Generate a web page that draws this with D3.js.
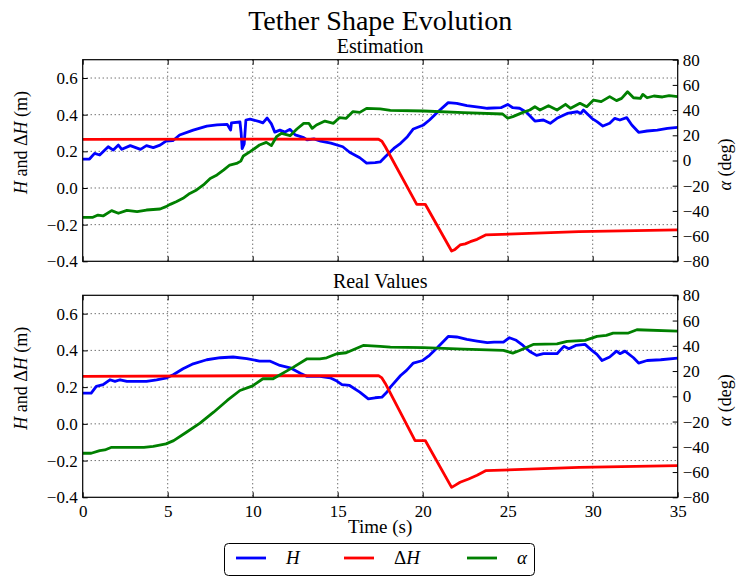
<!DOCTYPE html>
<html>
<head>
<meta charset="utf-8">
<script src="https://cdn.jsdelivr.net/npm/d3@7/dist/d3.min.js"></script>
<style>
  html, body { margin: 0; padding: 0; background: #fff; }
  svg { display: block; }
  text { font-family: "Liberation Serif", "DejaVu Serif", serif; fill: #000; }
</style>
</head>
<body>
<svg id="chart" width="737" height="577"></svg>
<script>
// ---- data: [time (s), value] ----
const estH = [[0,0.158],[0.4,0.158],[0.7,0.189],[1.0,0.180],[1.5,0.225],[1.8,0.207],[2.1,0.234],[2.3,0.211],[2.8,0.231],[3.4,0.211],[3.75,0.231],[4.15,0.220],[4.55,0.234],[4.9,0.256],[5.3,0.258],[5.7,0.289],[6.5,0.316],[7.3,0.338],[7.9,0.344],[8.5,0.347],[8.7,0.316],[8.75,0.355],[9.25,0.360],[9.32,0.300],[9.38,0.215],[9.5,0.240],[9.6,0.371],[9.85,0.376],[10.4,0.362],[10.6,0.355],[10.85,0.382],[11.1,0.350],[11.3,0.305],[11.6,0.316],[11.9,0.305],[12.2,0.320],[12.5,0.290],[13.0,0.275],[13.2,0.262],[13.6,0.268],[14.0,0.256],[14.6,0.245],[15.3,0.225],[15.7,0.195],[16.3,0.165],[16.7,0.136],[17.2,0.138],[17.5,0.142],[17.8,0.170],[18.3,0.216],[18.7,0.244],[19.1,0.280],[19.45,0.322],[20.05,0.344],[20.4,0.371],[20.9,0.416],[21.5,0.466],[22.0,0.462],[22.6,0.449],[23.4,0.440],[23.8,0.435],[24.6,0.438],[25.0,0.456],[25.3,0.438],[25.7,0.435],[26.1,0.413],[26.6,0.365],[27.1,0.371],[27.5,0.353],[27.9,0.380],[28.5,0.407],[29.1,0.416],[29.3,0.407],[29.45,0.425],[29.95,0.380],[30.25,0.362],[30.6,0.338],[31.0,0.353],[31.3,0.380],[31.6,0.371],[32.0,0.384],[32.3,0.344],[32.7,0.304],[33.2,0.311],[33.8,0.316],[34.4,0.325],[35,0.331]];
const estDH = [[0,0.265],[10,0.267],[17.4,0.266],[17.6,0.255],[17.8,0.225],[19.65,-0.089],[20.15,-0.089],[21.7,-0.344],[21.9,-0.335],[22.2,-0.311],[22.5,-0.305],[22.8,-0.293],[23.2,-0.280],[23.7,-0.256],[29.2,-0.238],[35,-0.229]];
const estAlpha = [[0,-45.1],[0.6,-45.1],[0.9,-43.3],[1.2,-44.0],[1.7,-39.8],[2.1,-41.9],[2.6,-39.6],[3.2,-40.6],[3.75,-39.3],[4.55,-38.5],[4.9,-36.6],[5.15,-34.8],[5.5,-32.7],[5.9,-30.0],[6.3,-26.1],[6.7,-23.4],[7.1,-19.4],[7.5,-14.2],[7.9,-11.5],[8.3,-7.5],[8.65,-3.6],[9.05,-2.3],[9.3,-0.5],[9.45,3.6],[9.85,7.0],[10.4,12.3],[10.8,14.4],[11.1,11.8],[11.4,18.9],[11.7,21.6],[12.2,19.7],[12.6,25.0],[13.0,29.5],[13.3,29.5],[13.5,25.5],[13.75,28.2],[14.25,31.3],[14.75,29.5],[15.1,34.0],[15.5,33.5],[15.9,38.8],[16.3,38.2],[16.7,41.4],[17.5,40.9],[18.1,39.8],[20.05,39.3],[22.4,38.0],[24.7,36.9],[25.0,33.5],[25.3,34.8],[25.9,38.2],[26.3,40.1],[26.6,42.7],[26.9,40.1],[27.4,43.5],[27.9,40.1],[28.4,44.6],[28.7,41.4],[29.25,45.4],[29.65,42.7],[30.05,48.0],[30.5,46.7],[31.0,50.7],[31.4,47.5],[31.7,49.3],[32.05,54.6],[32.4,49.8],[32.8,49.3],[32.95,52.5],[33.2,49.8],[33.6,51.2],[34.1,50.4],[34.5,51.5],[35,50.7]];

const realH = [[0,0.167],[0.5,0.167],[0.8,0.204],[1.2,0.213],[1.6,0.240],[1.9,0.231],[2.2,0.240],[2.6,0.231],[3.75,0.231],[4.35,0.240],[4.95,0.251],[5.35,0.269],[5.9,0.300],[6.5,0.327],[7.3,0.349],[8.1,0.360],[8.85,0.364],[9.65,0.355],[10.4,0.342],[11.0,0.342],[11.6,0.318],[12.2,0.305],[12.8,0.276],[13.2,0.258],[13.95,0.258],[14.55,0.251],[14.95,0.233],[15.25,0.214],[15.7,0.209],[16.3,0.173],[16.8,0.136],[17.2,0.142],[17.6,0.145],[17.9,0.173],[18.1,0.200],[18.7,0.263],[19.05,0.291],[19.45,0.331],[20.0,0.345],[20.4,0.373],[20.9,0.418],[21.5,0.476],[22.0,0.473],[22.6,0.460],[23.2,0.451],[23.8,0.442],[24.2,0.445],[24.75,0.445],[25.1,0.469],[25.5,0.455],[25.9,0.427],[26.3,0.394],[26.7,0.373],[27.1,0.382],[27.9,0.382],[28.3,0.422],[28.6,0.409],[29.0,0.427],[29.55,0.433],[29.95,0.400],[30.25,0.378],[30.55,0.345],[31.0,0.364],[31.4,0.396],[31.6,0.382],[31.9,0.396],[32.4,0.360],[32.7,0.331],[33.2,0.345],[34.0,0.349],[35,0.358]];
const realDH = [[0,0.258],[10,0.262],[17.4,0.263],[17.6,0.250],[17.8,0.220],[19.55,-0.091],[20.15,-0.091],[21.7,-0.346],[21.9,-0.335],[22.2,-0.318],[22.7,-0.300],[23.2,-0.280],[23.7,-0.255],[29.2,-0.237],[35,-0.228]];
const realAlpha = [[0,-45.1],[0.5,-45.1],[1.0,-43.0],[1.3,-42.5],[1.7,-40.4],[3.6,-40.4],[4.15,-39.6],[4.9,-37.7],[5.35,-35.1],[6.1,-28.5],[6.9,-21.3],[7.7,-12.6],[8.5,-3.3],[9.25,4.6],[10.0,8.3],[10.6,13.9],[11.2,13.9],[12.4,23.1],[13.2,29.7],[13.95,29.7],[14.35,30.5],[14.95,33.7],[15.5,34.5],[16.5,40.3],[17.5,39.5],[18.1,39.0],[20.05,38.5],[22.4,37.4],[24.75,36.3],[25.3,34.2],[25.7,36.3],[26.5,41.1],[27.9,41.6],[28.5,43.5],[29.55,44.3],[30.25,47.5],[30.8,48.3],[31.2,50.1],[32.1,50.1],[32.6,52.7],[35,51.7]];

const timeTicks = [0, 5, 10, 15, 20, 25, 30, 35];
const heightTicks = [-0.4, -0.2, 0.0, 0.2, 0.4, 0.6];
const angleTicks = [-80, -60, -40, -20, 0, 20, 40, 60, 80];
const panelTitles = ["Estimation", "Real Values"];
const seriesNames = ["H", "ΔH", "α"];
const seriesColors = ["#0000ff", "#ff0000", "#008000"];

// ---- layout ----
const svg = d3.select("#chart");
const X0 = 82.7, X1 = 677.7;
const panels = [
  { top: 59.7, bottom: 261.3, title: panelTitles[0], h: estH, dh: estDH, a: estAlpha, xLabels: false },
  { top: 295.3, bottom: 497.3, title: panelTitles[1], h: realH, dh: realDH, a: realAlpha, xLabels: true }
];

const x = d3.scaleLinear().domain([0, 35]).range([X0, X1]);
const fmtH = d3.format(".1f");
const TICK = 5;
const LW = 2.8;

svg.append("text")
  .attr("x", (X0 + X1) / 2).attr("y", 30)
  .attr("text-anchor", "middle")
  .style("font-size", "28px")
  .text("Tether Shape Evolution");

panels.forEach((p, i) => {
  const yL = d3.scaleLinear().domain([-0.4, 0.7]).range([p.bottom, p.top]);
  const yR = d3.scaleLinear().domain([-80, 80]).range([p.bottom, p.top]);
  const g = svg.append("g");

  // dotted grid
  const grid = g.append("g").attr("stroke", "#000").attr("stroke-width", 1)
    .attr("stroke-dasharray", "1,3").attr("opacity", 0.8);
  timeTicks.filter(t => t > 0 && t < 35).forEach(t => {
    grid.append("line").attr("x1", x(t)).attr("x2", x(t)).attr("y1", p.top).attr("y2", p.bottom);
  });
  heightTicks.filter(v => v > -0.4).forEach(v => {
    grid.append("line").attr("x1", X0).attr("x2", X1).attr("y1", yL(v)).attr("y2", yL(v));
  });

  // series
  const clipId = "clip" + i;
  svg.append("clipPath").attr("id", clipId).append("rect")
    .attr("x", X0).attr("y", p.top).attr("width", X1 - X0).attr("height", p.bottom - p.top);
  const lineL = d3.line().x(d => x(d[0])).y(d => yL(d[1]));
  const lineR = d3.line().x(d => x(d[0])).y(d => yR(d[1]));
  const lines = g.append("g").attr("clip-path", `url(#${clipId})`)
    .attr("fill", "none").attr("stroke-width", LW)
    .attr("stroke-linejoin", "round").attr("stroke-linecap", "round");
  lines.append("path").datum(p.h).attr("stroke", seriesColors[0]).attr("d", lineL);
  lines.append("path").datum(p.dh).attr("stroke", seriesColors[1]).attr("d", lineL);
  lines.append("path").datum(p.a).attr("stroke", seriesColors[2]).attr("d", lineR);

  // axes: ticks point inward
  const axB = d3.axisBottom(x).tickValues(timeTicks).tickSizeInner(-TICK).tickSizeOuter(0)
    .tickPadding(8).tickFormat(p.xLabels ? d3.format("d") : () => "");
  const axT = d3.axisTop(x).tickValues(timeTicks).tickSizeInner(-TICK).tickSizeOuter(0).tickFormat(() => "");
  const axL = d3.axisLeft(yL).tickValues(heightTicks).tickSizeInner(-TICK).tickSizeOuter(0)
    .tickPadding(5).tickFormat(fmtH);
  const axR = d3.axisRight(yR).tickValues(angleTicks).tickSizeInner(-TICK).tickSizeOuter(0)
    .tickPadding(5).tickFormat(d3.format("d"));

  [[axB, `translate(0,${p.bottom})`], [axT, `translate(0,${p.top})`],
   [axL, `translate(${X0},0)`], [axR, `translate(${X1},0)`]].forEach(([ax, tr]) => {
    const a = g.append("g").attr("transform", tr).call(ax);
    a.select(".domain").remove();
    a.selectAll(".tick line").attr("stroke", "#000").attr("stroke-width", 1);
    a.selectAll(".tick text").attr("fill", "#000")
      .style("font-family", '"Liberation Serif", serif').style("font-size", "17px");
  });

  // frame
  g.append("rect").attr("x", X0).attr("y", p.top).attr("width", X1 - X0).attr("height", p.bottom - p.top)
    .attr("fill", "none").attr("stroke", "#000").attr("stroke-width", 1.2);

  // subplot title
  svg.append("text").attr("x", (X0 + X1) / 2).attr("y", p.top - 7)
    .attr("text-anchor", "middle").style("font-size", "20px").text(p.title);

  // left label
  const mid = (p.top + p.bottom) / 2;
  const tl = svg.append("text")
    .attr("transform", `translate(27,${mid - 18}) rotate(-90)`)
    .attr("text-anchor", "middle").style("font-size", "18px");
  tl.append("tspan").style("font-style", "italic").text("H");
  tl.append("tspan").text(" and Δ");
  tl.append("tspan").style("font-style", "italic").text("H");
  tl.append("tspan").text(" (m)");

  // right label
  const tr = svg.append("text")
    .attr("transform", `translate(731,${mid + 4}) rotate(-90)`)
    .attr("text-anchor", "middle").style("font-size", "18px");
  tr.append("tspan").style("font-style", "italic").text("α");
  tr.append("tspan").text(" (deg)");
});

// x-axis label
svg.append("text").attr("x", (X0 + X1) / 2).attr("y", 533)
  .attr("text-anchor", "middle").style("font-size", "19px").text("Time (s)");

// legend
const lg = svg.append("g");
lg.append("rect").attr("x", 224.5).attr("y", 543.5).attr("width", 310).attr("height", 32)
  .attr("rx", 4).attr("fill", "#fff").attr("stroke", "#000").attr("stroke-width", 1);
const legendX = [236, 344, 467];
seriesNames.forEach((name, k) => {
  lg.append("line").attr("x1", legendX[k]).attr("x2", legendX[k] + 30)
    .attr("y1", 558).attr("y2", 558).attr("stroke", seriesColors[k]).attr("stroke-width", LW);
  const t = lg.append("text").attr("x", legendX[k] + 50).attr("y", 564).style("font-size", "19px");
  if (name === "ΔH") {
    t.append("tspan").text("Δ");
    t.append("tspan").style("font-style", "italic").text("H");
  } else {
    t.style("font-style", "italic").text(name);
  }
});
</script>
</body>
</html>
